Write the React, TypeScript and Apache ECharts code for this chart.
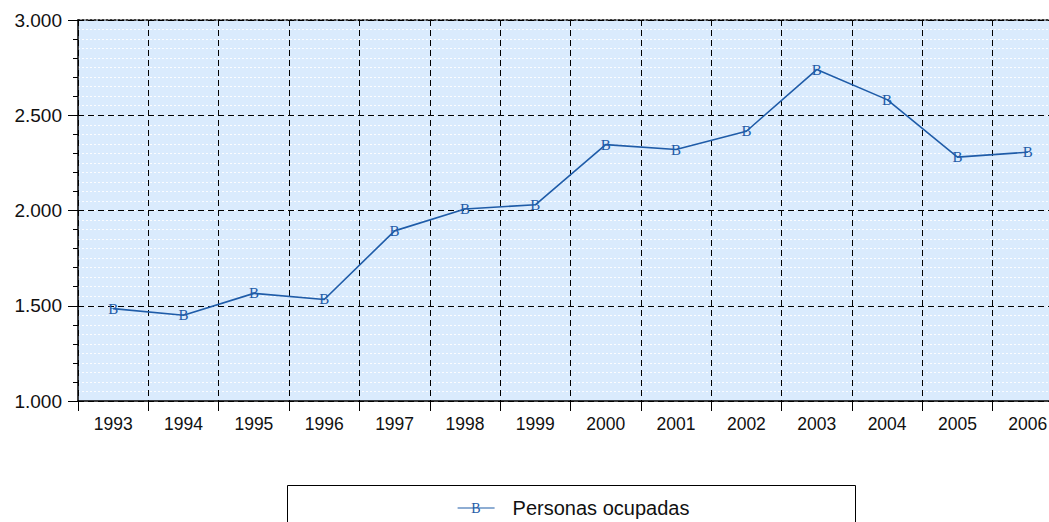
import React, { useEffect, useRef } from "react";
import * as echarts from "echarts";

const years = ["1993","1994","1995","1996","1997","1998","1999","2000","2001","2002","2003","2004","2005","2006"];
const personasOcupadas = [1485, 1450, 1565, 1533, 1893, 2008, 2030, 2346, 2320, 2416, 2740, 2582, 2280, 2306];
const seriesName = "Personas ocupadas";

const LINE = "#1f5ca8";

export default function App() {
  const ref = useRef<HTMLDivElement>(null);
  useEffect(() => {
    if (!ref.current) return;
    const chart = echarts.init(ref.current, null, { renderer: "svg" });
    const font = "'Liberation Sans', Arial, sans-serif";
    chart.setOption({
      animation: false,
      grid: {
        left: 78, top: 20, right: 0, bottom: 121,
        show: true, backgroundColor: "#daebfd", borderWidth: 0,
      },
      xAxis: [
        {
          type: "category",
          data: years,
          boundaryGap: true,
          axisLine: { lineStyle: { color: "#000", width: 1.5 } },
          axisTick: { show: true, length: 10, interval: 0, lineStyle: { color: "#000" } },
          axisLabel: { color: "#111", fontSize: 17.5, fontFamily: font, margin: 14, interval: 0 },
          splitLine: { show: true, interval: 0, lineStyle: { color: "#000", type: [6, 4], width: 1 } },
          z: 2,
        },
        {
          type: "category",
          data: years,
          position: "top",
          axisLine: { show: true, lineStyle: { color: "#000", type: [2, 2], width: 1.5 } },
          axisTick: { show: false },
          axisLabel: { show: false },
          splitLine: { show: false },
        },
      ],
      yAxis: [
        {
          type: "value",
          min: 1000, max: 3000, interval: 500,
          axisLine: { show: true, lineStyle: { color: "#000", width: 1.5 } },
          axisTick: { show: true, length: 10, lineStyle: { color: "#000" } },
          minorTick: { show: true, splitNumber: 5, length: 5, lineStyle: { color: "#000" } },
          axisLabel: {
            color: "#111", fontSize: 19, fontFamily: font, margin: 16,
            formatter: (v: number) => v.toLocaleString("de-DE"),
          },
          splitLine: { show: true, lineStyle: { color: "#000", type: [6, 4], width: 1 } },
          z: 2,
        },
        {
          type: "value",
          position: "left",
          min: 1000, max: 3000, interval: 50,
          axisLine: { show: false },
          axisTick: { show: false },
          axisLabel: { show: false },
          splitLine: { show: true, lineStyle: { color: "#ffffff", type: [2, 2], width: 1, opacity: 0.9 } },
          z: 0,
        },
      ],
      legend: {
        show: true,
        data: [seriesName],
        left: 452,
        top: 493,
        itemWidth: 37,
        itemHeight: 14,
        itemGap: 0,
        textStyle: { color: "#111", fontSize: 20, fontFamily: font, padding: [0, 0, 0, 13] },
        itemStyle: { opacity: 0 },
        lineStyle: { color: LINE, width: 1.2 },
      },
      graphic: [
        {
          type: "rect",
          shape: { x: 287.5, y: 485.5, width: 568, height: 60 },
          style: { fill: "#fff", stroke: "#000", lineWidth: 1 },
          z: -1,
        },
        {
          type: "text",
          x: 476, y: 508,
          style: { text: "B", fill: LINE, font: "14px 'Liberation Serif', 'DejaVu Serif', serif", align: "center", verticalAlign: "middle" },
          z: 10,
        },
      ],
      series: [
        {
          name: seriesName,
          type: "line",
          data: personasOcupadas,
          xAxisIndex: 0,
          yAxisIndex: 0,
          symbol: "circle",
          symbolSize: 1,
          itemStyle: { color: LINE },
          lineStyle: { color: LINE, width: 1.6 },
          label: {
            show: true,
            position: "inside",
            formatter: "B",
            color: LINE,
            fontSize: 15,
            fontFamily: "'Liberation Serif', 'DejaVu Serif', serif",
          },
          z: 5,
        },
      ],
    });
    return () => chart.dispose();
  }, []);
  return (
    <div style={{ position: "absolute", left: 0, top: 0, width: 1049, height: 522, overflow: "hidden", background: "#fff" }}>
      <div ref={ref} style={{ width: 1063, height: 522 }} />
    </div>
  );
}
